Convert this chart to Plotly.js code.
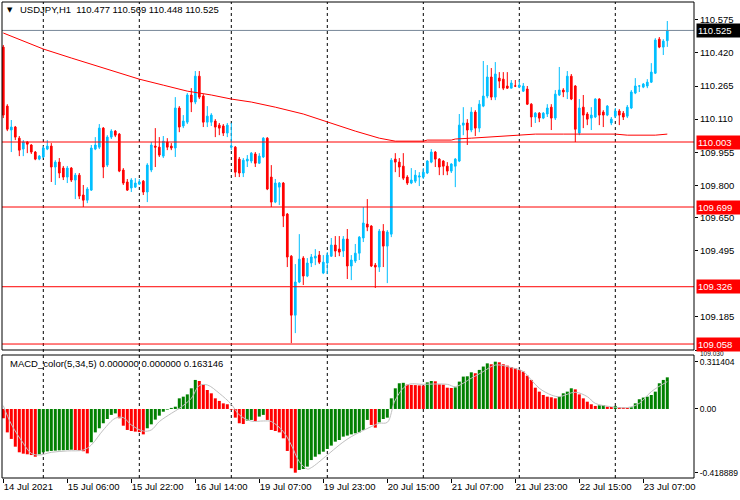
<!DOCTYPE html>
<html><head><meta charset="utf-8">
<script src="https://cdn.plot.ly/plotly-3.0.1.min.js"></script>
<style>html,body{margin:0;padding:0;background:#fff}#chart{width:740px;height:500px}</style>
</head><body><div id="chart"></div>
<script>
// ---- Price data (USDJPY H1, 14 Jul 14:00 .. 23 Jul 13:00) ----
const openP = [110.447,110.171,110.059,110.073,110.021,109.970,110.003,109.989,109.956,109.923,
109.933,109.970,109.984,109.886,109.909,109.881,109.839,109.881,109.825,109.848,
109.755,109.731,109.778,109.970,109.979,110.068,109.895,110.026,110.054,110.040,
109.872,109.816,109.788,109.792,109.806,109.820,109.769,109.872,109.984,109.979,
109.937,110.003,109.984,109.975,110.162,110.078,110.096,110.223,110.190,110.311,
110.218,110.096,110.096,110.101,110.082,110.078,110.045,109.979,109.979,109.923,
109.858,109.914,109.914,109.947,109.904,109.933,110.021,109.839,109.722,109.792,
109.811,109.666,109.469,109.193,109.348,109.460,109.376,109.437,109.460,109.474,
109.390,109.437,109.469,109.521,109.502,109.493,109.549,109.423,109.446,109.483,
109.554,109.619,109.610,109.427,109.418,109.586,109.516,109.572,109.923,109.909,
109.890,109.839,109.811,109.820,109.839,109.839,109.858,109.909,109.956,109.923,
109.914,109.890,109.867,109.890,109.914,110.082,110.092,110.059,110.143,110.068,
110.171,110.218,110.307,110.213,110.302,110.297,110.265,110.255,110.265,110.260,
110.241,110.251,110.180,110.120,110.138,110.115,110.134,110.166,110.115,110.223,
110.246,110.237,110.311,110.265,110.045,110.166,110.134,110.115,110.120,110.204,
110.143,110.129,110.092,110.124,110.148,110.138,110.124,110.162,110.232,110.265,
110.260,110.265,110.283,110.325,110.484,110.447,110.477];
const highP = [110.457,110.180,110.106,110.078,110.031,110.012,110.007,109.993,109.961,109.942,
109.984,110.012,109.998,109.918,109.928,109.891,109.891,109.886,109.858,109.858,
109.802,109.792,109.989,110.026,110.087,110.073,110.035,110.063,110.059,110.045,
109.881,109.830,109.834,109.834,109.830,109.825,109.904,110.003,110.068,110.026,
110.031,110.021,109.998,110.213,110.171,110.129,110.232,110.255,110.335,110.335,
110.227,110.171,110.138,110.110,110.092,110.087,110.092,110.092,109.984,109.933,
109.928,109.942,109.956,109.956,109.951,110.026,110.026,109.895,109.830,109.816,
109.816,109.671,109.474,109.432,109.572,109.469,109.460,109.479,109.502,109.493,
109.474,109.488,109.554,109.563,109.563,109.563,109.596,109.474,109.526,109.563,
109.699,109.736,109.614,109.437,109.596,109.619,109.591,109.928,109.951,109.928,
109.951,109.848,109.881,109.872,109.862,109.881,109.918,109.970,109.961,109.928,
109.918,109.909,109.904,109.928,110.134,110.166,110.110,110.166,110.152,110.199,
110.382,110.363,110.349,110.377,110.330,110.330,110.330,110.293,110.293,110.293,
110.279,110.265,110.185,110.143,110.143,110.143,110.180,110.180,110.246,110.354,
110.255,110.335,110.321,110.269,110.204,110.223,110.143,110.166,110.208,110.208,
110.152,110.176,110.120,110.162,110.157,110.148,110.176,110.246,110.302,110.269,
110.279,110.297,110.372,110.489,110.494,110.484,110.569];
const lowP = [110.115,110.054,109.956,110.012,109.937,109.937,109.951,109.947,109.918,109.918,
109.928,109.965,109.816,109.802,109.834,109.825,109.811,109.816,109.736,109.736,
109.699,109.717,109.774,109.965,109.970,109.834,109.886,110.017,110.026,109.862,
109.802,109.774,109.769,109.788,109.802,109.755,109.722,109.862,109.886,109.933,
109.928,109.965,109.965,109.933,110.049,110.068,110.087,110.143,110.180,110.204,
110.073,110.073,110.078,110.026,110.035,110.031,110.026,109.965,109.839,109.839,
109.839,109.886,109.904,109.886,109.900,109.928,109.778,109.699,109.717,109.708,
109.605,109.418,109.062,109.109,109.343,109.334,109.371,109.418,109.427,109.432,
109.385,109.385,109.465,109.465,109.469,109.465,109.362,109.357,109.437,109.451,
109.535,109.586,109.418,109.320,109.395,109.418,109.343,109.558,109.862,109.839,
109.825,109.802,109.806,109.811,109.797,109.830,109.853,109.904,109.886,109.848,
109.848,109.848,109.858,109.792,109.909,110.035,109.989,110.049,110.031,110.049,
110.166,110.208,110.199,110.199,110.255,110.246,110.251,110.255,110.260,110.255,
110.237,110.176,110.073,110.092,110.096,110.110,110.120,110.059,110.106,110.218,
110.213,110.204,110.199,110.003,110.035,110.068,110.082,110.059,110.115,110.082,
110.073,110.124,110.082,110.115,110.082,110.106,110.115,110.157,110.227,110.237,
110.255,110.255,110.279,110.321,110.442,110.410,110.448];
const closeP = [110.129,110.063,110.073,110.026,109.965,110.003,109.993,109.956,109.923,109.937,
109.975,109.984,109.886,109.909,109.858,109.839,109.881,109.825,109.848,109.750,
109.731,109.783,109.975,109.989,110.068,109.886,110.026,110.054,110.035,109.867,
109.811,109.778,109.825,109.811,109.816,109.769,109.895,109.989,109.979,109.942,
110.007,109.979,109.975,110.162,110.073,110.101,110.223,110.190,110.311,110.213,
110.096,110.124,110.129,110.073,110.068,110.045,110.082,109.984,109.862,109.858,
109.918,109.923,109.951,109.904,109.937,110.021,109.783,109.722,109.811,109.811,
109.657,109.465,109.193,109.348,109.455,109.376,109.437,109.465,109.469,109.441,
109.441,109.474,109.521,109.493,109.488,109.549,109.423,109.451,109.483,109.558,
109.624,109.605,109.423,109.418,109.586,109.516,109.582,109.918,109.909,109.886,
109.834,109.811,109.825,109.848,109.844,109.862,109.914,109.956,109.923,109.886,
109.890,109.867,109.900,109.923,110.082,110.092,110.059,110.143,110.068,110.180,
110.218,110.307,110.213,110.321,110.288,110.255,110.255,110.279,110.265,110.269,
110.265,110.180,110.120,110.138,110.115,110.138,110.162,110.115,110.227,110.246,
110.237,110.311,110.204,110.063,110.162,110.129,110.110,110.129,110.204,110.129,
110.129,110.171,110.110,110.148,110.129,110.120,110.166,110.237,110.265,110.265,
110.274,110.283,110.330,110.480,110.447,110.475,110.525];

// Moving average (read at selected bars)
const maIdx = [0,10,17,25,34,40,46,52,57,62,68,75,81,88,94,98,105,106,112,113,117,121,127,133,140,146,153,156,163,166];
const maVal = [110.513,110.438,110.396,110.349,110.297,110.269,110.241,110.223,110.204,110.190,110.166,110.134,110.096,110.054,110.021,110.007,110.007,110.012,110.012,110.017,110.021,110.026,110.035,110.040,110.040,110.040,110.040,110.035,110.035,110.040];

// MACD histogram
const macdHist = [-0.061,-0.154,-0.197,-0.248,-0.285,-0.294,-0.298,-0.303,-0.314,-0.298,
-0.285,-0.279,-0.276,-0.274,-0.272,-0.271,-0.270,-0.268,-0.270,-0.273,
-0.278,-0.292,-0.219,-0.154,-0.127,-0.094,-0.066,-0.039,-0.029,-0.061,
-0.110,-0.138,-0.145,-0.149,-0.152,-0.167,-0.127,-0.101,-0.070,-0.044,
-0.018,-0.004,0.007,0.015,0.070,0.081,0.096,0.136,0.191,0.184,
0.158,0.125,0.103,0.070,0.053,0.037,0.031,-0.004,-0.057,-0.094,
-0.099,-0.076,-0.072,-0.079,-0.050,-0.039,-0.072,-0.138,-0.145,-0.154,
-0.193,-0.276,-0.390,-0.419,-0.401,-0.395,-0.379,-0.336,-0.314,-0.298,
-0.281,-0.263,-0.241,-0.215,-0.204,-0.182,-0.175,-0.167,-0.160,-0.154,
-0.138,-0.072,-0.105,-0.123,-0.088,-0.066,-0.057,0.070,0.136,0.169,
0.172,0.160,0.158,0.157,0.155,0.154,0.175,0.184,0.182,0.162,
0.160,0.140,0.138,0.142,0.180,0.213,0.215,0.241,0.235,0.257,
0.279,0.300,0.294,0.311,0.307,0.294,0.285,0.276,0.268,0.257,
0.246,0.219,0.191,0.140,0.114,0.092,0.081,0.077,0.070,0.081,
0.103,0.114,0.136,0.129,0.096,0.070,0.048,0.031,0.020,0.024,
0.026,0.015,0.013,0.020,0.011,0.009,0.007,0.011,0.037,0.064,
0.075,0.081,0.092,0.114,0.169,0.191,0.208];
// MACD signal line (read at selected bars)
const sigIdx = [0,2,5,7,9,12,16,20,22,25,28,30,32,35,37,39,42,44,47,49,51,54,57,59,62,65,67,70,72,74,76,77,81,84,87,92,94,96,98,101,105,111,113,117,120,123,127,130,132,134,137,139,143,146,148,152,156,159,162,166];
const sigVal = [0.022,-0.100,-0.226,-0.292,-0.303,-0.285,-0.276,-0.270,-0.237,-0.138,-0.061,-0.057,-0.105,-0.145,-0.138,-0.083,-0.029,0.004,0.070,0.154,0.158,0.103,0.031,-0.039,-0.080,-0.079,-0.083,-0.149,-0.237,-0.346,-0.395,-0.386,-0.303,-0.237,-0.182,-0.116,-0.094,-0.088,0.059,0.158,0.162,0.162,0.147,0.202,0.246,0.289,0.272,0.246,0.191,0.136,0.092,0.081,0.110,0.081,0.037,0.015,0.009,0.037,0.114,0.180];

// Levels and labels
const levelLines = [110.003, 109.699, 109.326, 109.058];
const lastPrice = 110.525;
const priceTicks = [110.575,110.420,110.265,110.110,109.955,109.800,109.650,109.495,109.185,109.030];
const bottomPriceLabel = 109.030;
const macdTicks = [0.311404, 0, -0.418889];
const macdTickText = ['0.311404','0.00','-0.418889'];
const timeTickIdx = [0,16,32,48,64,80,96,112,128,144,160];
const timeTickText = ['14 Jul 2021','15 Jul 06:00','15 Jul 22:00','16 Jul 14:00','19 Jul 07:00','19 Jul 23:00','20 Jul 15:00','21 Jul 07:00','21 Jul 23:00','22 Jul 15:00','23 Jul 07:00'];
const daySeparators = [10,34,57,81,105,129,153];
const titleText = 'USDJPY,H1  110.477 110.569 110.448 110.525';
const macdText = 'MACD_color(5,34,5) 0.000000 0.000000 0.163146';

const bars = openP.map((_, i) => i);
const FONT = 'Liberation Sans, Arial, sans-serif';
const FS = 9.5;
const BLUE = '#00BFFF', RED = '#FF0000', GREEN = '#008000';

const histColors = macdHist.map((v, i) => (i > 0 && v > macdHist[i-1]) ? GREEN : RED);

const traces = [
  {type:'scatter', mode:'lines', x: maIdx, y: maVal, line:{color:RED, width:1}, hoverinfo:'skip', xaxis:'x', yaxis:'y'},
  {type:'candlestick', x: bars, open: openP, high: highP, low: lowP, close: closeP,
   increasing:{line:{color:BLUE, width:1}, fillcolor:BLUE},
   decreasing:{line:{color:RED, width:1}, fillcolor:RED},
   whiskerwidth:0, hoverinfo:'skip', xaxis:'x', yaxis:'y'},
  {type:'bar', x: bars, y: macdHist, marker:{color: histColors, line:{width:0}}, hoverinfo:'skip', xaxis:'x', yaxis:'y2'},
  {type:'scatter', mode:'lines', x: sigIdx, y: sigVal, line:{color:'#C0C0C0', width:1, shape:'spline'}, hoverinfo:'skip', xaxis:'x', yaxis:'y2'}
];

const mainBottom = 0.2689, macdTop = 0.2584;
const shapes = [];
levelLines.forEach(v => shapes.push({type:'line', xref:'paper', x0:0, x1:1, yref:'y', y0:v, y1:v, line:{color:RED, width:1}}));
shapes.push({type:'line', xref:'paper', x0:0, x1:1, yref:'y', y0:lastPrice, y1:lastPrice, line:{color:'#778899', width:1}});
daySeparators.forEach(d => shapes.push({type:'line', xref:'x', x0:d, x1:d, yref:'paper', y0:0, y1:1, line:{color:'#000', width:1, dash:'3px,3px'}, layer:'below'}));
shapes.push({type:'rect', xref:'paper', yref:'paper', x0:0, x1:1, y0:mainBottom, y1:1, line:{color:'#000', width:1}});
shapes.push({type:'rect', xref:'paper', yref:'paper', x0:0, x1:1, y0:0, y1:macdTop, line:{color:'#000', width:1}});

const annotations = [];
annotations.push({xref:'paper', x:1, xanchor:'left', xshift:5, yref:'paper', y:0.2708, yanchor:'top',
  text: bottomPriceLabel.toFixed(3), showarrow:false, font:{family:FONT, size:6.5, color:'#000'}, borderpad:0});
levelLines.forEach(v => annotations.push({xref:'paper', x:1, xanchor:'left', xshift:2, yref:'y', y:v, yanchor:'middle',
  text: v.toFixed(3), showarrow:false, bgcolor:RED, font:{family:FONT, size:FS, color:'#fff'}, width:41, align:'left', borderpad:1}));
annotations.push({xref:'paper', x:1, xanchor:'left', xshift:2, yref:'y', y:lastPrice, yanchor:'middle',
  text: lastPrice.toFixed(3), showarrow:false, bgcolor:'#000', font:{family:FONT, size:FS, color:'#fff'}, width:41, align:'left', borderpad:1});
annotations.push({xref:'paper', yref:'paper', x:0.005, y:0.984, xanchor:'left', yanchor:'middle', text:'▼', showarrow:false, font:{family:'DejaVu Sans', size:7, color:'#000'}});
annotations.push({xref:'paper', yref:'paper', x:0.023, y:0.984, xanchor:'left', yanchor:'middle', text:titleText, showarrow:false, font:{family:FONT, size:FS, color:'#000'}});
annotations.push({xref:'paper', yref:'paper', x:0.009, y:0.2395, xanchor:'left', yanchor:'middle', text:macdText, showarrow:false, font:{family:FONT, size:FS, color:'#000'}});

const layout = {
  width:740, height:500,
  margin:{l:2, r:46, t:2, b:22, pad:0},
  paper_bgcolor:'#fff', plot_bgcolor:'#fff',
  showlegend:false, bargap:0.25, boxgap:0.4,
  font:{family:FONT, size:FS, color:'#000'},
  xaxis:{range:[-0.325,172.675], anchor:'y2', tickvals:timeTickIdx, ticktext:timeTickText,
    ticks:'outside', ticklen:4, tickcolor:'#000', ticklabelposition:'outside right',
    showgrid:false, zeroline:false, showline:false, rangeslider:{visible:false},
    tickfont:{family:FONT, size:FS, color:'#000'}, fixedrange:true},
  yaxis:{domain:[mainBottom,1], range:[109.030,110.658], side:'right', anchor:'x',
    tickvals:priceTicks, ticktext:priceTicks.map(v => v === bottomPriceLabel ? '' : v.toFixed(3)), ticks:'outside', ticklen:3, tickcolor:'#000',
    showgrid:false, zeroline:false, showline:false, tickfont:{family:FONT, size:FS, color:'#000'}},
  yaxis2:{domain:[0,macdTop], range:[-0.454,0.355], side:'right', anchor:'x',
    tickvals:macdTicks, ticktext:macdTickText, ticks:'outside', ticklen:3, tickcolor:'#000',
    showgrid:false, zeroline:false, showline:false, tickfont:{family:FONT, size:8.5, color:'#000'}},
  shapes: shapes, annotations: annotations
};
Plotly.newPlot('chart', traces, layout, {displayModeBar:false, staticPlot:true});
</script></body></html>
